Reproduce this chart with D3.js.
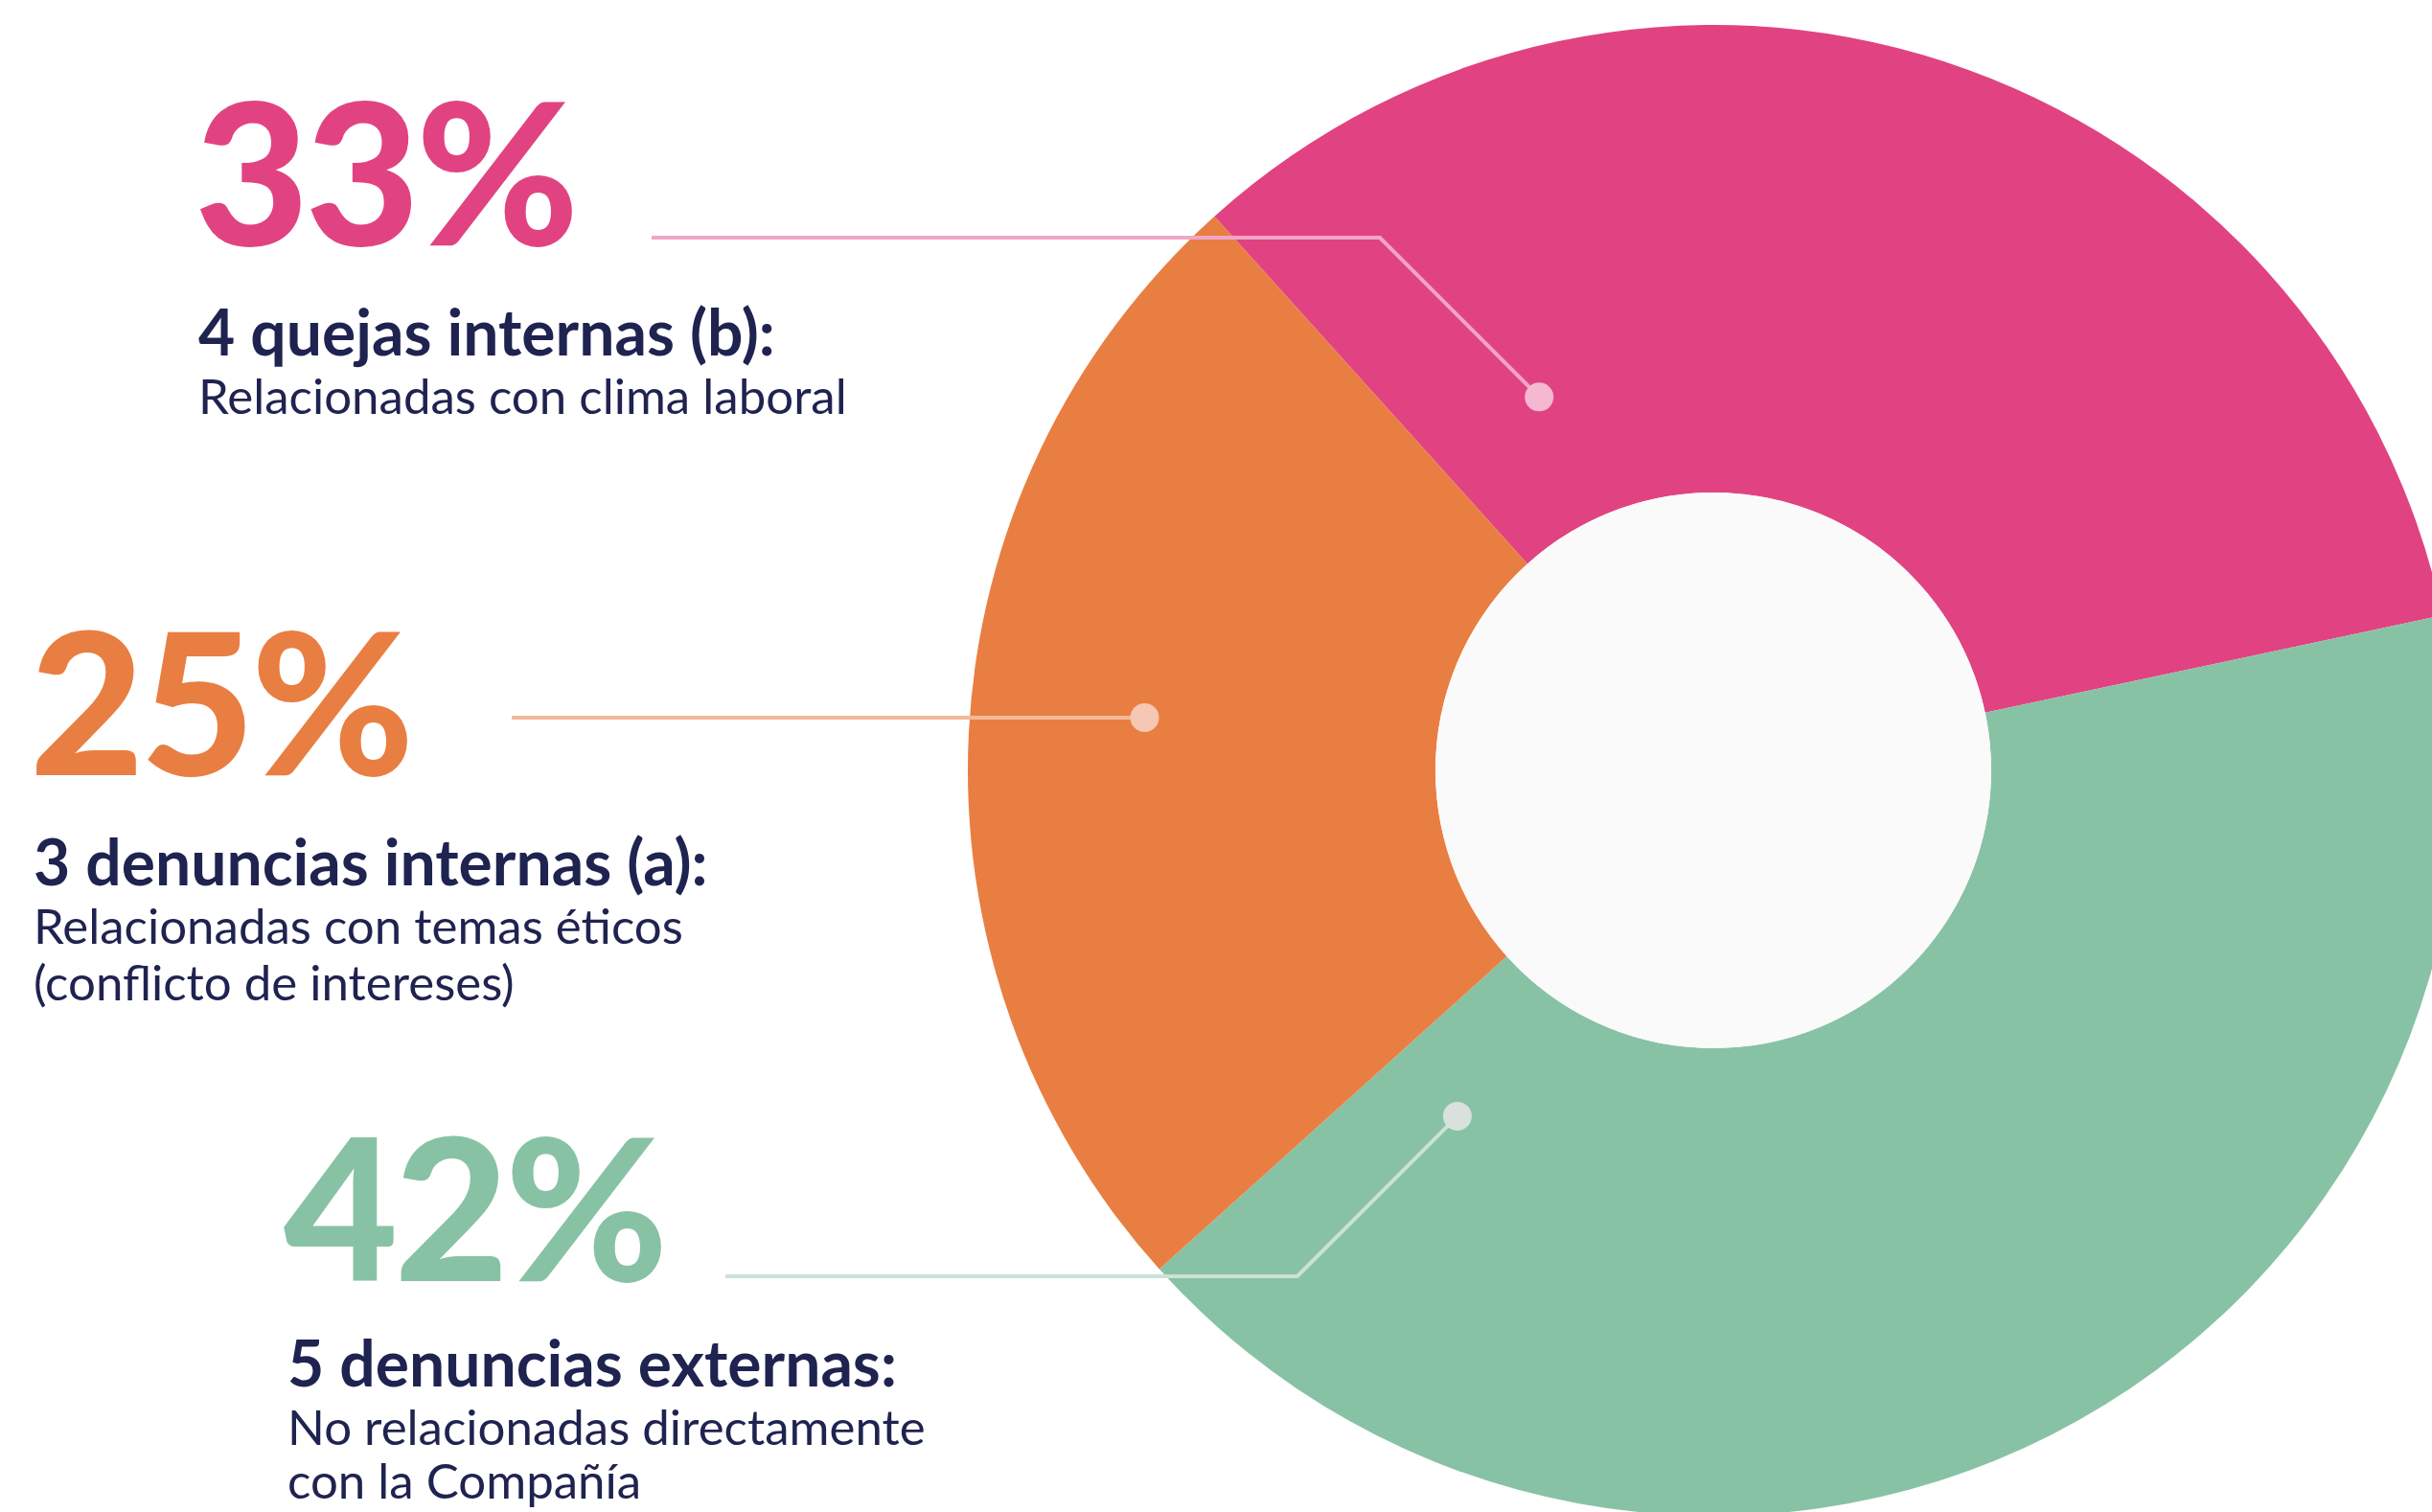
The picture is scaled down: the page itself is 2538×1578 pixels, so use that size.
<!DOCTYPE html>
<html lang="es">
    <head>
        <meta charset="utf-8">
        <title>Denuncias y quejas</title>
        <script src="https://d3js.org/d3.v7.min.js"></script>
        <style type="text/css">
          body{
            margin: 0;
            background-color: #ffffff;
          }
          svg{
            display: block;
            width: 2538px;
            height: 1578px;
          }
          .pct{
            font-family: Lato, "Open Sans", sans-serif;
            font-weight: 900;
            font-size: 206px;
            letter-spacing: -4px;
          }
          .head{
            font-family: Lato, "Open Sans", sans-serif;
            font-weight: 700;
            font-size: 66px;
            fill: #1f2350;
          }
          .desc{
            font-family: Lato, "Open Sans", sans-serif;
            font-weight: 400;
            font-size: 51px;
            fill: #1f2350;
          }
        </style>
    </head>
    <body>
        <svg></svg>

        <script type="text/javascript">

        //Data, in clockwise order around the ring (pink, green, orange)
        const categories = ["4 quejas internas (b):", "5 denuncias externas:", "3 denuncias internas (a):"];
        const counts = [4, 5, 3];
        const percents = [33, 42, 25];
        const descriptions = [
          ["Relacionadas con clima laboral"],
          ["No relacionadas directamente", "con la Compañía"],
          ["Relacionadas con temas éticos", "(conflicto de intereses)"]
        ];
        const colors = ["#e14382", "#88c2a4", "#e97e42"];
        const lineColors = ["#f0a6c6", "#cce2d7", "#f3b89a"];
        const dotColors = ["#f4b9d1", "#d8e1dc", "#f6c7b2"];

        const width = 2538, height = 1578;
        const cx = 1788, cy = 804;
        const outerR = 778, innerR = 290;

        //where each label block sits, and where its leader dot is (angle in degrees, radius)
        const layout = [
          {x: 207, pctY: 256, headY: 371, lineX: 680, lineY: 248, dotA: -25, dotR: 430, gap: 59},
          {x: 300, pctY: 1337, headY: 1447, lineX: 757, lineY: 1332, dotA: -143.5, dotR: 449, gap: 56},
          {x: 35, pctY: 809, headY: 924, lineX: 534, lineY: 749, dotA: -84.7, dotR: 596, gap: 59}
        ];

        const data = categories.map((c, i) => ({
          category: c, count: counts[i], pct: percents[i], desc: descriptions[i],
          color: colors[i], line: lineColors[i], dot: dotColors[i], pos: layout[i]
        }));

        const svg = d3.select("svg")
                      .attr("viewBox", [0, 0, width, height]);

        const pie = d3.pie()
                      .value(d => d.count)
                      .sort(null)
                      .startAngle(-42 * Math.PI / 180)
                      .endAngle(318 * Math.PI / 180);

        const arc = d3.arc()
                      .innerRadius(innerR)
                      .outerRadius(outerR);

        const ring = svg.append("g")
                        .attr("transform", "translate(" + [cx, cy] + ")");

        ring.selectAll("path")
            .data(pie(data))
            .join("path")
            .attr("d", arc)
            .attr("fill", d => d.data.color);

        //hole is a touch off-white
        ring.append("circle")
            .attr("r", innerR)
            .attr("fill", "#fafafa");

        //leader lines: horizontal, then a 45 degree run to the dot
        function dotXY(d){
          const a = d.pos.dotA * Math.PI / 180;
          return [cx + d.pos.dotR * Math.sin(a), cy - d.pos.dotR * Math.cos(a)];
        }

        const leader = d3.line();

        svg.selectAll(".leader")
           .data(data)
           .join("path")
           .attr("class", "leader")
           .attr("d", d => {
             const [dx, dy] = dotXY(d);
             const elbowX = dx - Math.abs(dy - d.pos.lineY);
             return leader([[d.pos.lineX, d.pos.lineY], [elbowX, d.pos.lineY], [dx, dy]]);
           })
           .attr("fill", "none")
           .attr("stroke", d => d.line)
           .attr("stroke-width", 4);

        svg.selectAll(".dot")
           .data(data)
           .join("circle")
           .attr("class", "dot")
           .attr("cx", d => dotXY(d)[0])
           .attr("cy", d => dotXY(d)[1])
           .attr("r", 15)
           .attr("fill", d => d.dot);

        //label blocks
        const g = svg.selectAll(".label")
                     .data(data)
                     .join("g")
                     .attr("class", "label");

        g.append("text")
         .attr("class", "pct")
         .attr("x", d => d.pos.x - 4)
         .attr("y", d => d.pos.pctY)
         .attr("fill", d => d.color)
         .text(d => d.pct + "%");

        g.append("text")
         .attr("class", "head")
         .attr("x", d => d.pos.x)
         .attr("y", d => d.pos.headY)
         .text(d => d.category);

        g.append("text")
         .attr("class", "desc")
         .attr("y", d => d.pos.headY + 61)
         .selectAll("tspan")
         .data(d => d.desc.map(t => ({t: t, x: d.pos.x, gap: d.pos.gap})))
         .join("tspan")
         .attr("x", d => d.x)
         .attr("dy", (d, i) => i ? d.gap : 0)
         .text(d => d.t);

        </script>
    </body>
</html>
